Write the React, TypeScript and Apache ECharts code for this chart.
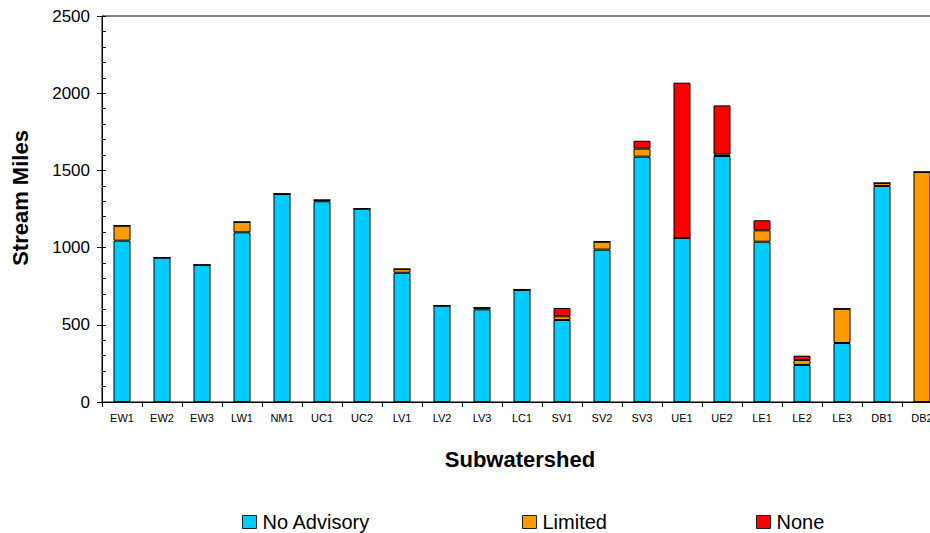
import React, { useEffect, useRef } from "react";
import * as echarts from "echarts";

const categories = ["EW1","EW2","EW3","LW1","NM1","UC1","UC2","LV1","LV2","LV3","LC1","SV1","SV2","SV3","UE1","UE2","LE1","LE2","LE3","DB1","DB2"];
const noAdvisory = [1045, 935, 887, 1099, 1347, 1300, 1252, 837, 624, 600, 727, 531, 987, 1589, 1062, 1593, 1038, 240, 382, 1399, 0];
const limited =    [97, 0, 0, 67, 0, 8, 0, 24, 0, 10, 0, 24, 51, 52, 0, 10, 74, 32, 222, 19, 1490];
const none =       [0, 0, 0, 0, 0, 0, 0, 0, 0, 0, 0, 54, 0, 51, 1006, 318, 65, 28, 0, 0, 0];
const yTicks = { min: 0, max: 2500, major: 500, minor: 100 };

const FONT = 'Arial, "Liberation Sans", sans-serif';
const COLORS = { noAdvisory: "#00CCFF", limited: "#FF9900", none: "#FF0000" };

export default function App() {
  const ref = useRef<HTMLDivElement>(null);
  useEffect(() => {
    if (!ref.current) return;
    const chart = echarts.init(ref.current, undefined, { renderer: "svg" });
    const barSeries = (name: string, data: number[], color: string) => ({
      name,
      type: "bar",
      stack: "total",
      data,
      barWidth: 17,
      itemStyle: { color, borderColor: "#000", borderWidth: 1 },
      emphasis: { disabled: true },
    });
    const legendBase = (name: string, left: number) => ({
      data: [name],
      left,
      top: 512,
      padding: 0,
      itemWidth: 14,
      itemHeight: 13,
      icon: "rect",
      selectedMode: false,
      itemStyle: { borderColor: "#222", borderWidth: 1 },
      textStyle: { fontFamily: FONT, fontSize: 20, color: "#000", lineHeight: 20, padding: [0, 0, 0, 1] },
    });
    chart.setOption({
      animation: false,
      textStyle: { fontFamily: FONT },
      grid: {
        left: 102,
        top: 16,
        width: 840,
        bottom: 131,
        show: true,
        borderColor: "#000",
        borderWidth: 1,
        backgroundColor: "transparent",
      },
      legend: [
        legendBase("No Advisory", 242),
        legendBase("Limited", 522),
        legendBase("None", 756),
      ],
      xAxis: {
        type: "category",
        data: categories,
        axisLine: { lineStyle: { color: "#000", width: 1 } },
        axisTick: { show: true, length: 5, lineStyle: { color: "#000" } },
        axisLabel: { fontFamily: FONT, fontSize: 11, color: "#000", margin: 10, interval: 0 },
      },
      yAxis: [
        {
          type: "value",
          min: yTicks.min,
          max: yTicks.max,
          interval: yTicks.major,
          axisLine: { show: true, lineStyle: { color: "#000", width: 1 } },
          axisTick: { show: true, length: 5, lineStyle: { color: "#000" } },
          axisLabel: {
            fontFamily: FONT,
            fontSize: 17,
            color: "#000",
            margin: 12,
            formatter: (v: number) => String(v),
          },
          splitLine: { show: false },
        },
        {
          type: "value",
          min: yTicks.min,
          max: yTicks.max,
          interval: yTicks.minor,
          position: "left",
          axisLine: { show: false },
          axisTick: { show: true, inside: true, length: 4, lineStyle: { color: "#000" } },
          axisLabel: { show: false },
          splitLine: { show: false },
        },
      ],
      graphic: [
        {
          type: "text",
          x: 20,
          y: 198,
          rotation: Math.PI / 2,
          style: {
            text: "Stream Miles",
            font: `bold 22px ${FONT}`,
            fill: "#000",
            align: "center",
            verticalAlign: "middle",
          },
        },
        {
          type: "text",
          x: 520,
          y: 459,
          style: {
            text: "Subwatershed",
            font: `bold 22px ${FONT}`,
            fill: "#000",
            align: "center",
            verticalAlign: "middle",
          },
        },
      ],
      series: [
        barSeries("No Advisory", noAdvisory, COLORS.noAdvisory),
        barSeries("Limited", limited, COLORS.limited),
        barSeries("None", none, COLORS.none),
      ],
    });
    return () => chart.dispose();
  }, []);
  return (
    <div style={{ position: "fixed", left: 0, top: 0, width: 930, height: 533, overflow: "hidden", background: "#fff" }}>
      <div ref={ref} style={{ width: 960, height: 533 }} />
    </div>
  );
}
